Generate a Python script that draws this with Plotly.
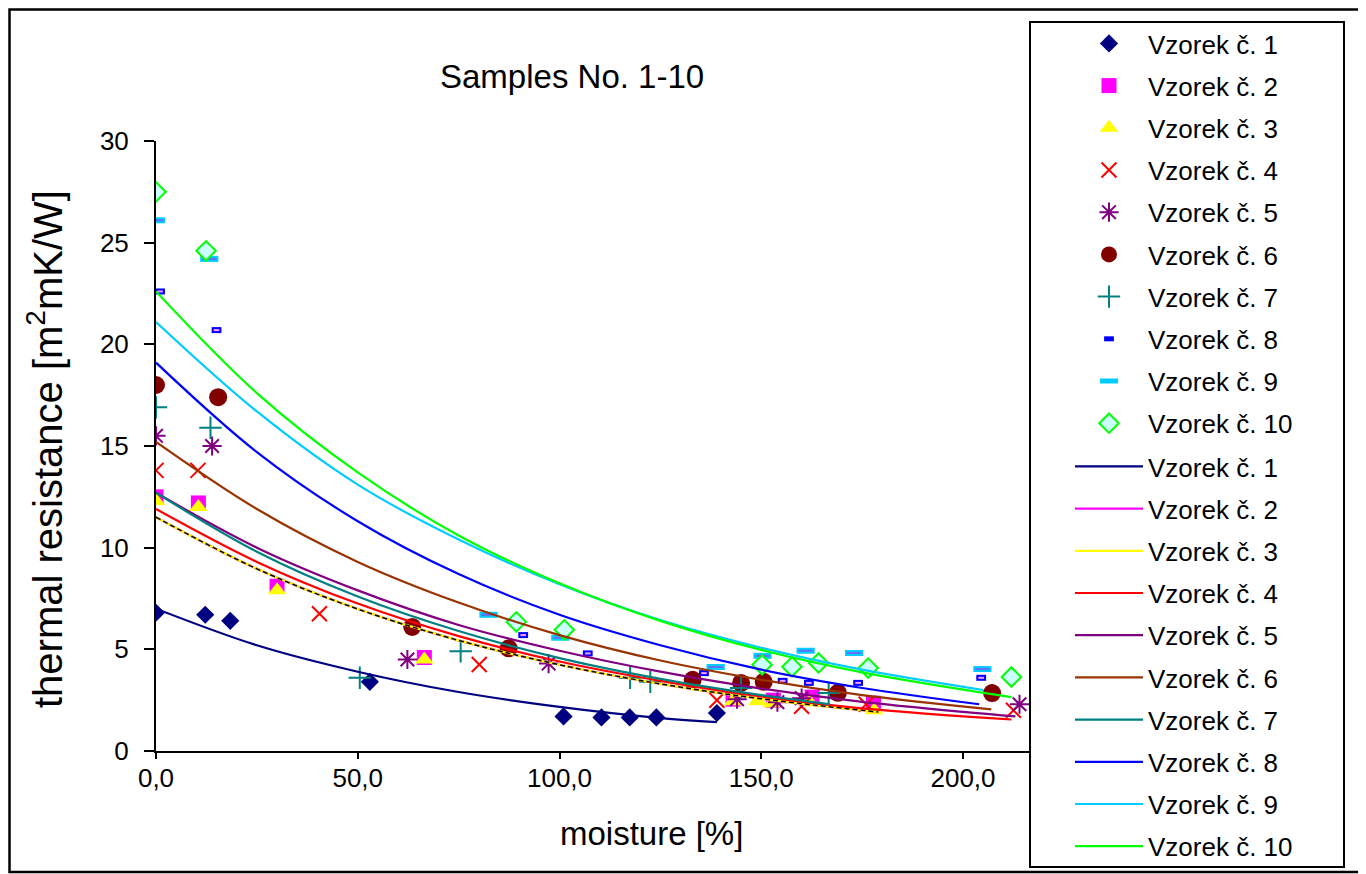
import plotly.graph_objects as go

# ---------------- data ----------------
names = ["Vzorek č. 1", "Vzorek č. 2", "Vzorek č. 3", "Vzorek č. 4", "Vzorek č. 5",
         "Vzorek č. 6", "Vzorek č. 7", "Vzorek č. 8", "Vzorek č. 9", "Vzorek č. 10"]

s1_x = [0, 12.2, 18.4, 53, 101, 110.4, 117.4, 124, 139]
s1_y = [6.8, 6.7, 6.4, 3.4, 1.7, 1.65, 1.65, 1.65, 1.87]
s2_x = [0, 10.5, 30, 66.5, 143, 153, 162.6, 177.8]
s2_y = [12.5, 12.2, 8.1, 4.6, 2.55, 2.5, 2.65, 2.35]
s3_x = [0, 10.5, 30, 66.5, 143, 149, 152.6, 162, 178]
s3_y = [12.3, 12.0, 7.9, 4.5, 2.45, 2.45, 2.35, 2.4, 2.0]
s4_x = [0, 10.4, 40.5, 80.1, 139, 160, 176, 212.5]
s4_y = [13.8, 13.8, 6.75, 4.25, 2.5, 2.2, 2.3, 2.0]
s5_x = [0, 13.9, 62.3, 97.3, 144, 154, 160, 214]
s5_y = [15.5, 15.0, 4.5, 4.3, 2.55, 2.4, 2.6, 2.3]
s6_x = [0, 15.4, 63.5, 87.4, 133, 145, 150.6, 169, 207.2]
s6_y = [18.0, 17.4, 6.1, 5.05, 3.5, 3.35, 3.4, 2.86, 2.85]
s7_x = [0, 13.5, 50.5, 75.5, 117.5, 122.5, 145, 166.7]
s7_y = [16.9, 15.9, 3.6, 4.9, 3.6, 3.4, 3.1, 2.85]
s8_x = [1, 15, 91, 107, 135.8, 155.3, 161.8, 174, 204.5]
s8_y = [22.6, 20.7, 5.7, 4.8, 3.83, 3.45, 3.35, 3.35, 3.6]
s9_x = [0, 13.2, 82.4, 100.2, 138.7, 150.3, 161, 173, 204.8]
s9_y = [26.1, 24.2, 6.7, 5.57, 4.13, 4.68, 4.93, 4.82, 4.03]
s10_x = [0, 12.4, 89.3, 101.2, 150.2, 157.6, 164.2, 176.5, 212]
s10_y = [27.5, 24.6, 6.35, 5.96, 4.24, 4.14, 4.33, 4.08, 3.64]

# trend lines
t1_x = [0, 25, 50, 75, 100, 125, 139]
t1_y = [7.0, 5.2, 3.9, 2.9, 2.17, 1.62, 1.42]
t2_x = [0, 25, 50, 75, 100, 125, 150, 179]
t2_y = [11.5, 8.96, 6.98, 5.44, 4.24, 3.30, 2.57, 1.92]
t3_x = [0, 25, 50, 75, 100, 125, 150, 179]
t3_y = [11.5, 8.96, 6.98, 5.44, 4.24, 3.30, 2.57, 1.92]
t4_x = [0, 25, 50, 75, 100, 125, 150, 175, 212]
t4_y = [11.9, 9.3, 7.25, 5.65, 4.4, 3.45, 2.68, 2.1, 1.55]
t5_x = [0, 25, 50, 75, 100, 125, 150, 175, 213]
t5_y = [12.7, 10.0, 7.9, 6.2, 4.93, 3.9, 3.07, 2.42, 1.7]
t6_x = [0, 25, 50, 75, 100, 125, 150, 175, 207]
t6_y = [15.2, 11.9, 9.3, 7.3, 5.7, 4.45, 3.5, 2.75, 2.05]
t7_x = [0, 25, 50, 75, 100, 125, 150, 167]
t7_y = [12.7, 9.8, 7.6, 5.9, 4.57, 3.55, 2.75, 2.3]
t8_x = [0, 25, 50, 75, 100, 125, 150, 175, 204]
t8_y = [19.1, 14.7, 11.3, 8.7, 6.7, 5.2, 4.0, 3.1, 2.3]
t9_x = [0, 25, 50, 75, 100, 125, 150, 175, 205]
t9_y = [21.1, 16.7, 13.1, 10.4, 8.2, 6.44, 5.08, 4.0, 3.0]
t10_x = [0, 25, 50, 75, 100, 125, 150, 175, 212]
t10_y = [22.6, 17.6, 13.7, 10.6, 8.25, 6.4, 4.97, 3.87, 2.65]

x_tickvals = [0, 50, 100, 150, 200]
x_ticktext = ["0,0", "50,0", "100,0", "150,0", "200,0"]
y_tickvals = [0, 5, 10, 15, 20, 25, 30]
y_ticktext = ["0", "5", "10", "15", "20", "25", "30"]

# ---------------- layout geometry (figure pixels) ----------------
W, H = 1358, 866
PL, PR, PT, PB = 148, 1022, 133, 743          # plot area edges
PW, PH = PR - PL, PB - PT


def px(x):
    return (x - PL) / PW


def py(y):
    return (PB - y) / PH


FONT = "Liberation Sans, Arial, sans-serif"
pts_x = [s1_x, s2_x, s3_x, s4_x, s5_x, s6_x, s7_x, s8_x, s9_x, s10_x]
pts_y = [s1_y, s2_y, s3_y, s4_y, s5_y, s6_y, s7_y, s8_y, s9_y, s10_y]
lin_x = [t1_x, t2_x, t3_x, t4_x, t5_x, t6_x, t7_x, t8_x, t9_x, t10_x]
lin_y = [t1_y, t2_y, t3_y, t4_y, t5_y, t6_y, t7_y, t8_y, t9_y, t10_y]

markers = [
    dict(symbol="diamond", size=14, color="#000080"),
    dict(symbol="square", size=15, color="#ff00ff"),
    dict(symbol="triangle-up", size=16, color="#ffff00"),
    dict(symbol="x-thin-open", size=15, color="#ff0000", line=dict(width=2, color="#ff0000")),
    dict(symbol="asterisk-open", size=16, color="#800080", line=dict(width=2, color="#800080")),
    dict(symbol="circle", size=18, color="#800000"),
    dict(symbol="cross-thin-open", size=16, color="#008080", line=dict(width=2, color="#008080")),
    dict(symbol="line-ew-open", size=7, color="#0000ff", line=dict(width=6, color="#0000ff")),
    dict(symbol="line-ew-open", size=13, color="#00ccff", line=dict(width=6, color="#00ccff")),
    dict(symbol="diamond", size=15, color="#ccffff", line=dict(width=2, color="#00ff00")),
]
line_colors = ["#000080", "#ff00ff", "#ffff00", "#ff0000", "#800080",
               "#993300", "#008080", "#0000ff", "#00ccff", "#00ff00"]

fig = go.Figure()
for i in range(10):
    fig.add_trace(go.Scatter(x=pts_x[i], y=pts_y[i], mode="markers", name=names[i],
                             marker=markers[i], legend="legend", legendgroup="m%d" % i))
    if i in (7, 8):
        fig.add_trace(go.Scatter(x=pts_x[i], y=pts_y[i], mode="markers", showlegend=False,
                                 hoverinfo="skip", legend="legend", legendgroup="m%d" % i,
                                 marker=dict(symbol="line-ew-open", size=markers[i]["size"] - 3,
                                             line=dict(width=2, color="white"))))
for i in range(10):
    fig.add_trace(go.Scatter(x=lin_x[i], y=lin_y[i], mode="lines", name=names[i],
                             line=dict(color=line_colors[i], width=2.2, shape="spline"),
                             legend="legend2", legendgroup="l%d" % i))
    if i == 2:
        fig.add_trace(go.Scatter(x=lin_x[i], y=lin_y[i], mode="lines", showlegend=False,
                                 hoverinfo="skip", legend="legend2", legendgroup="l%d" % i,
                                 line=dict(color="black", width=1.5, dash="5px,3px", shape="spline")))

legend_common = dict(xref="container", yref="container", x=1062 / W, xanchor="left",
                     yanchor="top", bgcolor="rgba(0,0,0,0)", borderwidth=0,
                     font=dict(family=FONT, size=26, color="black"),
                     traceorder="grouped", tracegroupgap=5.4, itemwidth=68)

fig.update_layout(
    width=W, height=H,
    margin=dict(l=PL, r=W - PR, t=PT, b=H - PB),
    paper_bgcolor="white", plot_bgcolor="white",
    font=dict(family=FONT, size=26, color="black"),
    showlegend=True,
    legend=dict(legend_common, y=1 - 12 / H),
    legend2=dict(legend_common, y=1 - 435 / H),
    xaxis=dict(range=[0, 216.6], showgrid=False, zeroline=False,
               showline=True, linecolor="black", linewidth=2,
               ticks="outside", ticklen=6, tickwidth=2, tickcolor="black",
               tickvals=x_tickvals, ticktext=x_ticktext, ticklabelstandoff=-3,
               tickfont=dict(family=FONT, size=26)),
    yaxis=dict(range=[0, 30], showgrid=False, zeroline=False,
               showline=True, linecolor="black", linewidth=2,
               ticks="outside", ticklen=10, tickwidth=2, tickcolor="black",
               tickvals=y_tickvals, ticktext=y_ticktext, ticklabelstandoff=10,
               tickfont=dict(family=FONT, size=26)),
    annotations=[
        dict(text="Samples No. 1-10", xref="paper", yref="paper",
             x=px(564), y=py(69), showarrow=False,
             font=dict(family=FONT, size=33), xanchor="center", yanchor="middle"),
        dict(text="moisture [%]", xref="paper", yref="paper",
             x=px(643), y=py(825), showarrow=False,
             font=dict(family=FONT, size=33), xanchor="center", yanchor="middle"),
        dict(text="thermal resistance [m<sup>2</sup>mK/W]", xref="paper", yref="paper",
             x=px(37), y=py(441), showarrow=False, textangle=-90,
             font=dict(family=FONT, size=40), xanchor="center", yanchor="middle"),
    ],
    shapes=[
        dict(type="rect", xref="paper", yref="paper",
             x0=px(1.5), x1=px(1354), y0=py(864), y1=py(1.5),
             line=dict(color="black", width=2.5), layer="below"),
        dict(type="rect", xref="paper", yref="paper",
             x0=px(1022), x1=px(1336), y0=py(859), y1=py(14),
             line=dict(color="black", width=2), fillcolor="white", layer="above"),
    ],
)

fig.write_html("out.html")
